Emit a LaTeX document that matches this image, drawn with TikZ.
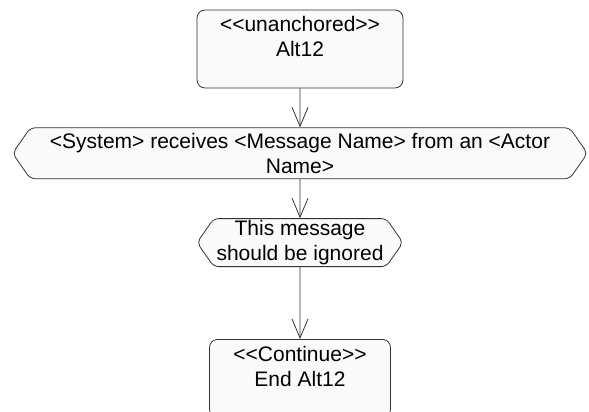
\documentclass[tikz,border=0pt]{standalone}
\usepackage{fontspec}
\setmainfont{Liberation Sans}
\usetikzlibrary{positioning,shapes.symbols,arrows.meta}
\begin{document}
\begin{tikzpicture}[x=1pt, y=-1pt, node distance=39pt,
  every node/.style={font=\fontsize{21}{25}\selectfont, align=center, draw=black!80, line width=0.8pt, fill=black!2, inner sep=0pt},
  anchorbox/.style={rounded corners=8pt, minimum height=78pt},
  stepsig/.style={signal, signal to=west and east, signal pointer angle=110, rounded corners=5pt},
  flow/.style={draw=black!80, line width=0.8pt, -{Straight Barb[length=19pt,width=16pt]}}]
\useasboundingbox (0,0) rectangle (589,412);
\node [anchorbox, minimum width=206pt] (alt) at (300,49) {<{}<unanchored>{}>\\Alt12\\ \mbox{}};
\node [stepsig, minimum width=575pt, minimum height=51pt, below=of alt] (receive)
  {<System> receives <Message Name> from an <Actor\\Name>};
\node [stepsig, minimum width=206pt, minimum height=48pt, below=of receive] (ignore)
  {This message\\should be ignored};
\node [anchorbox, minimum width=181pt, below=72pt of ignore] (cont) {<{}<Continue>{}>\\End Alt12\\ \mbox{}};
\draw [flow] (alt) -- (receive);
\draw [flow] (receive) -- (ignore);
\draw [flow] (ignore) -- (cont);
\end{tikzpicture}
\end{document}
